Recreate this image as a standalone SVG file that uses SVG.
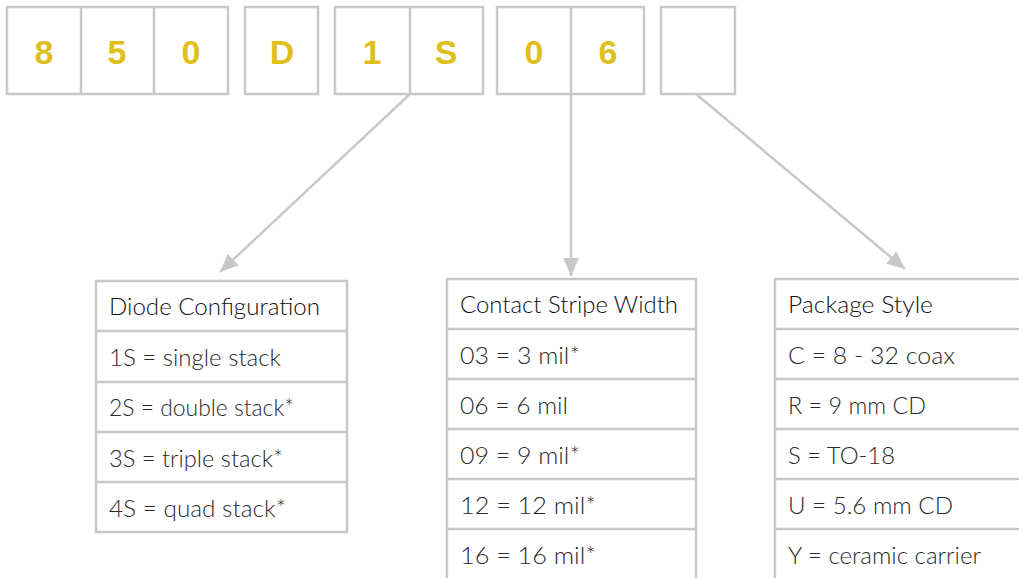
<svg xmlns="http://www.w3.org/2000/svg" width="1019" height="578" viewBox="0 0 1019 578">
<style>
.box{fill:#fff;stroke:#c8c8c8;stroke-width:2.5}
.code{font-family:"Liberation Sans",Arial,sans-serif;font-weight:bold;font-size:34px;fill:#e0bf1c;text-anchor:middle}
.tbl{fill:#fff;stroke:#c8c8c8;stroke-width:2.5}
.div{stroke:#c8c8c8;stroke-width:2.5}
.hdr{font-family:Lato,"Liberation Sans",sans-serif;font-weight:300;font-size:23px;fill:#111}
.row{font-family:Lato,"Liberation Sans",sans-serif;font-weight:300;font-size:23px;fill:#2a2a2a}
.conn{stroke:#c8c8c8;stroke-width:2.5;fill:none}
</style>
<defs>
<marker id="ah" markerUnits="userSpaceOnUse" markerWidth="20" markerHeight="16" refX="18" refY="8" orient="auto">
<path d="M0,0 L18,8 L0,16 z" fill="#c8c8c8"/>
</marker>
</defs>
<rect width="1019" height="578" fill="#fff"/>
<g id="code-850">
<rect class="box" x="7" y="7" width="221" height="87"/>
<line class="div" x1="81" y1="7" x2="81" y2="94"/>
<line class="div" x1="154" y1="7" x2="154" y2="94"/>
<text class="code" x="44" y="64">8</text>
<text class="code" x="117" y="64">5</text>
<text class="code" x="191" y="64">0</text>
</g>
<g id="code-D">
<rect class="box" x="245" y="7" width="73" height="87"/>
<text class="code" x="282" y="64">D</text>
</g>
<g id="code-1S">
<rect class="box" x="335" y="7" width="148" height="87"/>
<line class="div" x1="410" y1="7" x2="410" y2="94"/>
<text class="code" x="372" y="64">1</text>
<text class="code" x="446" y="64">S</text>
</g>
<g id="code-06">
<rect class="box" x="497" y="7" width="147" height="87"/>
<line class="div" x1="571" y1="7" x2="571" y2="94"/>
<text class="code" x="534" y="64">0</text>
<text class="code" x="608" y="64">6</text>
</g>
<g id="code-blank">
<rect class="box" x="661" y="7" width="74" height="87"/>
</g>
<g id="connectors">
<line class="conn" x1="410" y1="94" x2="220" y2="272" marker-end="url(#ah)"/>
<line class="conn" x1="571" y1="94" x2="571" y2="276" marker-end="url(#ah)"/>
<line class="conn" x1="696" y1="94" x2="905" y2="269" marker-end="url(#ah)"/>
</g>
<g id="diode-configuration">
<rect class="tbl" x="96" y="281" width="251" height="251"/>
<line class="div" x1="96" y1="331" x2="347" y2="331"/>
<line class="div" x1="96" y1="382" x2="347" y2="382"/>
<line class="div" x1="96" y1="432" x2="347" y2="432"/>
<line class="div" x1="96" y1="482" x2="347" y2="482"/>
<text class="hdr" x="109" y="315" textLength="211" lengthAdjust="spacingAndGlyphs">Diode Configuration</text>
<text class="row" x="109" y="366" textLength="172" lengthAdjust="spacingAndGlyphs">1S = single stack</text>
<text class="row" x="109" y="416" textLength="185" lengthAdjust="spacingAndGlyphs">2S = double stack*</text>
<text class="row" x="109" y="467" textLength="174" lengthAdjust="spacingAndGlyphs">3S = triple stack*</text>
<text class="row" x="109" y="517" textLength="177" lengthAdjust="spacingAndGlyphs">4S = quad stack*</text>
</g>
<g id="contact-stripe-width">
<rect class="tbl" x="447" y="279" width="249" height="310"/>
<line class="div" x1="447" y1="329" x2="696" y2="329"/>
<line class="div" x1="447" y1="379" x2="696" y2="379"/>
<line class="div" x1="447" y1="429" x2="696" y2="429"/>
<line class="div" x1="447" y1="479" x2="696" y2="479"/>
<line class="div" x1="447" y1="529" x2="696" y2="529"/>
<text class="hdr" x="460" y="313" textLength="218" lengthAdjust="spacingAndGlyphs">Contact Stripe Width</text>
<text class="row" x="460" y="364" textLength="120" lengthAdjust="spacingAndGlyphs">03 = 3 mil*</text>
<text class="row" x="460" y="414" textLength="108" lengthAdjust="spacingAndGlyphs">06 = 6 mil</text>
<text class="row" x="460" y="464" textLength="120" lengthAdjust="spacingAndGlyphs">09 = 9 mil*</text>
<text class="row" x="460" y="514" textLength="136" lengthAdjust="spacingAndGlyphs">12 = 12 mil*</text>
<text class="row" x="460" y="564" textLength="136" lengthAdjust="spacingAndGlyphs">16 = 16 mil*</text>
</g>
<g id="package-style">
<rect class="tbl" x="775" y="279" width="260" height="310"/>
<line class="div" x1="775" y1="329" x2="1030" y2="329"/>
<line class="div" x1="775" y1="379" x2="1030" y2="379"/>
<line class="div" x1="775" y1="429" x2="1030" y2="429"/>
<line class="div" x1="775" y1="479" x2="1030" y2="479"/>
<line class="div" x1="775" y1="529" x2="1030" y2="529"/>
<text class="hdr" x="788" y="313" textLength="145" lengthAdjust="spacingAndGlyphs">Package Style</text>
<text class="row" x="788" y="364" textLength="167" lengthAdjust="spacingAndGlyphs">C = 8 - 32 coax</text>
<text class="row" x="788" y="414" textLength="138" lengthAdjust="spacingAndGlyphs">R = 9 mm CD</text>
<text class="row" x="788" y="464" textLength="107" lengthAdjust="spacingAndGlyphs">S = TO-18</text>
<text class="row" x="788" y="514" textLength="165" lengthAdjust="spacingAndGlyphs">U = 5.6 mm CD</text>
<text class="row" x="788" y="564" textLength="193" lengthAdjust="spacingAndGlyphs">Y = ceramic carrier</text>
</g>
</svg>
